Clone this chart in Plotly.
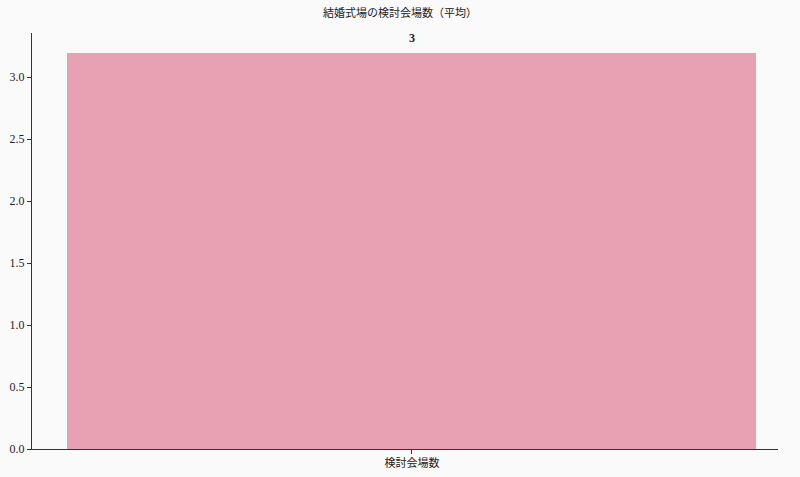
import plotly.graph_objects as go

categories = ["検討会場数"]
values = [3.19]
labels = ["3"]

fig = go.Figure()
fig.add_trace(go.Bar(
    x=[0], y=values, width=0.8,
    marker=dict(color="#e8a0b3", line=dict(width=0)),
    hoverinfo="skip",
))
for i, (v, t) in enumerate(zip(values, labels)):
    fig.add_annotation(x=i, y=v, text=f"<b>{t}</b>", showarrow=False,
                       yanchor="bottom", yshift=6,
                       font=dict(size=12, color="#222"))

W, H = 800, 477
font_fam = "Liberation Serif, DejaVu Serif, Noto Sans CJK JP, serif"
fig.update_layout(
    width=W, height=H,
    paper_bgcolor="#fafafa", plot_bgcolor="#fafafa",
    margin=dict(l=32, r=22, t=33, b=28, autoexpand=False),
    font=dict(family=font_fam, size=12, color="#222"),
    title=dict(text="結婚式場の検討会場数（平均）", x=0.5, xanchor="center",
               xref="container", yref="container",
               y=1 - 13 / H, yanchor="middle", font=dict(size=11, color="#222"),
               automargin=False),
    showlegend=False,
    bargap=0,
)
fig.update_xaxes(
    range=[-0.441, 0.425], automargin=False,
    tickmode="array", tickvals=list(range(len(categories))), ticktext=categories,
    showline=True, linecolor="#333", linewidth=1, ticks="outside", ticklen=4,
    tickcolor="#333", showgrid=False, zeroline=False,
    tickfont=dict(size=11),
)
fig.update_yaxes(
    range=[0, 3.355], automargin=False, tickvals=[0, 0.5, 1, 1.5, 2, 2.5, 3], tickformat=".1f",
    showline=True, linecolor="#333", linewidth=1, ticks="outside", ticklen=4,
    tickcolor="#333", showgrid=False, zeroline=False,
    tickfont=dict(size=12),
)
post = ("document.body.style.margin='0';"
        "document.body.style.background='#fafafa';"
        "document.body.style.overflow='hidden';")
fig.write_html("out.html", post_script=post, config={"displayModeBar": False})
